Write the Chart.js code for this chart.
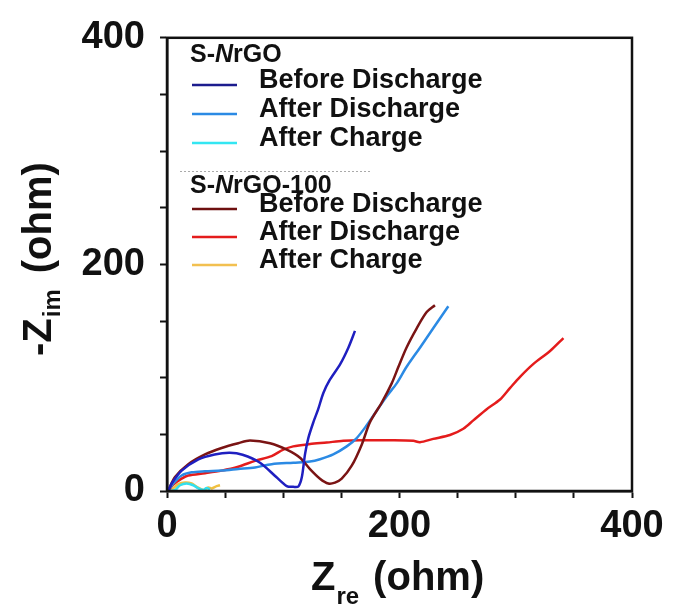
<!DOCTYPE html>
<html>
<head>
<meta charset="utf-8">
<script src="https://cdn.jsdelivr.net/npm/chart.js@4"></script>
<style>
  body { margin: 0; background: #fff; }
  canvas { display: block; }
</style>
</head>
<body>
<canvas id="nyquist" width="673" height="607"></canvas>
<script>
// Nyquist plots, [Zre, -Zim] pairs in ohm
const nrgoBefore = [[1,0],[4,6.6],[12.6,18],[27,28],[41,32.3],[54,33.7],[65,32],[80,25],[94,12.3],[103,4.3],[108.6,3.7],[113,4],[116,12.3],[118.7,32.3],[121.5,46.5],[126,61],[130,72],[134.5,86.5],[140,98],[149,112],[156,126.5],[161.7,141.3]];
const nrgoAfterDischarge = [[1,0],[5.4,6.6],[12.6,13.7],[21.2,16.5],[32.7,17.4],[47,18],[61.3,19.4],[75.7,20.8],[90,23.7],[108.6,25],[123,26],[131.6,28],[143,32.3],[154.6,39.4],[163,46.5],[171.8,58],[180.4,70.8],[189,83.7],[197.6,95],[206,109.4],[217.6,126.5],[229,143.6],[242,163]];
const nrgoAfterCharge = [[2,0],[6.9,0.9],[11.2,5.1],[16.9,6.6],[22.6,5.1],[27,2.3],[31.2,0.9],[34.1,2.6],[37,1.4]];
const n100Before = [[1,0],[6.9,12.3],[18.3,23.7],[32.7,32.3],[47,38],[61.3,42.2],[71.4,44.5],[88.6,42.2],[103,36.5],[114.4,29.4],[123,19.4],[131.6,10.9],[138.8,6.6],[144.5,7.4],[150.3,10.9],[158.9,22.3],[167.5,40.9],[174.6,60.8],[184.7,78],[193.3,95],[199,109.4],[206,126.5],[214.8,143.6],[223.4,157.9],[230.5,164]];
const n100AfterDischarge = [[1,0],[5.4,5.7],[12.6,10.9],[18.3,13.7],[32.7,15.7],[47,18],[61.3,21.4],[75.7,26.6],[90,30.8],[100,36.5],[108.6,39.4],[123,41.4],[137.4,42.8],[151.7,44.3],[166,44.8],[194.7,44.8],[211.9,44.3],[217.6,43.1],[229,46],[243.4,49.4],[254.9,55],[263.5,62.3],[275,72.2],[286.5,80.8],[295,90.8],[303.7,100.8],[315,112],[329.5,123.6],[341,135]];
const n100AfterCharge = [[3,0],[5.4,2.3],[9.7,6],[15.5,7.4],[21.2,6.6],[25.5,3.7],[29.8,1.4],[32.7,0.9],[35.5,3.1],[38.4,2.3],[42.7,4.3],[45.6,5.1]];

const seriesLabels = ['Before Discharge', 'After Discharge', 'After Charge'];
const groupNames = ['S-NrGO', 'S-NrGO-100'];
const axisMin = 0;
const axisMax = 400;
const tickStep = 50;
const labelStep = 200;

const FONT = '"Liberation Sans", Arial, sans-serif';
const INK = '#111';

const series = [
  { data: nrgoBefore, color: '#1f1fc0', legendColor: '#1c1c8e', group: 0, row: 0 },
  { data: n100Before, color: '#7a1414', legendColor: '#6e1010', group: 1, row: 0 },
  { data: nrgoAfterDischarge, color: '#2b8ae4', legendColor: '#2b8ae4', group: 0, row: 1 },
  { data: n100AfterDischarge, color: '#e41c1c', legendColor: '#e41c1c', group: 1, row: 1 },
  { data: nrgoAfterCharge, color: '#33dfee', legendColor: '#33e6f2', group: 0, row: 2 },
  { data: n100AfterCharge, color: '#f0c040', legendColor: '#f2c050', group: 1, row: 2 },
];

// frame, legend and axis titles with subscripts
const decorations = {
  id: 'decorations',
  afterDraw(chart) {
    const { ctx, chartArea: a } = chart;
    ctx.save();

    ctx.strokeStyle = INK;
    ctx.lineWidth = 2.5;
    ctx.strokeRect(a.left, a.top, a.right - a.left, a.bottom - a.top);

    // faint dotted rule from the source figure
    ctx.strokeStyle = '#aaa';
    ctx.lineWidth = 1;
    ctx.setLineDash([2, 2]);
    ctx.beginPath();
    ctx.moveTo(180, 171.5);
    ctx.lineTo(370, 171.5);
    ctx.stroke();
    ctx.setLineDash([]);

    // legend
    const headingY = [62, 193];
    const rowY = [[88, 117, 146], [212, 240, 268]];
    ctx.fillStyle = INK;
    ctx.textBaseline = 'alphabetic';
    groupNames.forEach((name, g) => {
      let x = 190;
      const parts = [['S-', 'bold'], ['N', 'italic bold'], [name.slice(3), 'bold']];
      parts.forEach(([t, w]) => {
        ctx.font = w + ' 25px ' + FONT;
        ctx.fillText(t, x, headingY[g]);
        x += ctx.measureText(t).width;
      });
    });
    series.forEach(s => {
      const y = rowY[s.group][s.row];
      ctx.strokeStyle = s.legendColor;
      ctx.lineWidth = 2.5;
      ctx.beginPath();
      ctx.moveTo(192, y - 3);
      ctx.lineTo(237, y - 3);
      ctx.stroke();
      ctx.font = 'bold 27px ' + FONT;
      ctx.fillText(seriesLabels[s.row], 259, y);
    });

    // x title: Z_re (ohm)
    let x = 311;
    ctx.font = 'bold 40px ' + FONT;
    ctx.fillText('Z', x, 590);
    x += ctx.measureText('Z').width + 1;
    ctx.font = 'bold 24px ' + FONT;
    ctx.fillText('re', x, 604);
    x += ctx.measureText('re').width + 14;
    ctx.font = 'bold 40px ' + FONT;
    ctx.fillText('(ohm)', x, 590);

    // y title: -Z_im (ohm)
    ctx.translate(51, 356);
    ctx.rotate(-Math.PI / 2);
    x = 0;
    ctx.font = 'bold 40px ' + FONT;
    ctx.fillText('-Z', x, 0);
    x += ctx.measureText('-Z').width + 1;
    ctx.font = 'bold 24px ' + FONT;
    ctx.fillText('im', x, 9);
    x += ctx.measureText('im').width + 16;
    ctx.font = 'bold 40px ' + FONT;
    ctx.fillText('(ohm)', x, 0);

    ctx.restore();
  }
};

const axisOptions = (isX) => ({
  type: 'linear',
  min: axisMin,
  max: axisMax,
  border: { display: true, color: INK, width: 2.5 },
  grid: { drawOnChartArea: false, drawTicks: true, tickLength: 7, tickWidth: 2, tickColor: INK },
  ticks: {
    stepSize: tickStep,
    autoSkip: false,
    maxRotation: 0,
    padding: isX ? 6 : 15,
    color: INK,
    font: { family: FONT, size: 38, weight: 'bold' },
    callback: (v) => (v % labelStep === 0 ? v : ''),
  },
  afterFit: (scale) => {
    if (isX) scale.height = 116;
    else scale.width = 167;
  },
});

new Chart(document.getElementById('nyquist').getContext('2d'), {
  type: 'scatter',
  data: {
    datasets: series.map(s => ({
      data: s.data.map(([zr, zi]) => ({ x: zr, y: zi })),
      showLine: true,
      borderColor: s.color,
      borderWidth: 2.5,
      pointRadius: 0,
      tension: 0.3,
      fill: false,
    })),
  },
  options: {
    responsive: false,
    animation: false,
    layout: { padding: { left: 0, top: 24, right: 41, bottom: 0 } },
    plugins: { legend: { display: false }, tooltip: { enabled: false } },
    scales: { x: axisOptions(true), y: axisOptions(false) },
  },
  plugins: [decorations],
});
</script>
</body>
</html>
